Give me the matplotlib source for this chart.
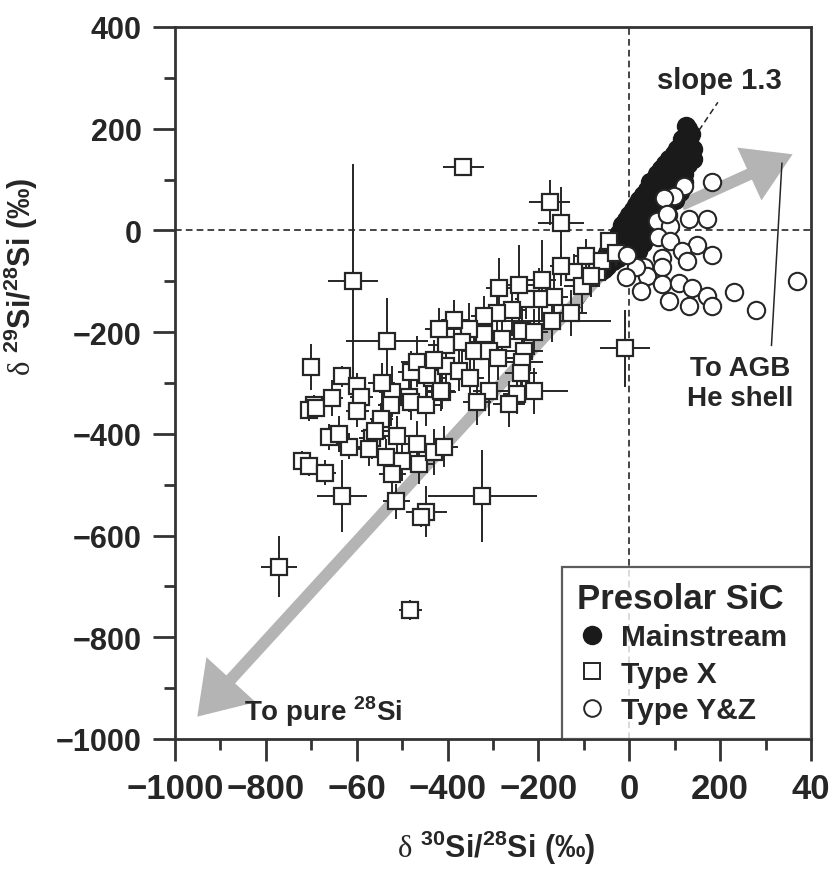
import matplotlib
matplotlib.use("Agg")
import matplotlib.pyplot as plt
from matplotlib.lines import Line2D
from matplotlib.patches import FancyArrowPatch
from matplotlib.ticker import MultipleLocator, FixedLocator

plt.rcParams['mathtext.fontset'] = 'custom'
plt.rcParams['mathtext.rm'] = 'Liberation Serif'
plt.rcParams['mathtext.sf'] = 'Liberation Sans:bold'
plt.rcParams['mathtext.bf'] = 'Liberation Sans:bold'
plt.rcParams['font.family'] = ['Liberation Sans', 'DejaVu Sans']

# ---------------- data ----------------
# Mainstream grains (filled circles)
ms_x = [-65, -58, -50, -45, -40, -35, -30, -28, -22, -18, -15, -10, -8, -5, 0, 3, 5, 8, 10, 12,
        15, 18, 20, 22, 25, 28, 30, 33, 35, 38, 40, 42, 45, 48, 50, 55, 58, 60, 62, 65,
        68, 70, 72, 75, 78, 80, 85, 88, 90, 95, 98, 100, 105, 108, 110, 115, 118, 120, 125, 128, 130, 132,
        100, 110, 120, 90, 80, 60, 50, 40, 30, 20, 70, 130, 140, 135, 125, 115, 105, 95, 85, 75,
        65, 55, 45, 35, 25, 15, 5, -5, -15, -25, -55, -62, -48, -35, -20, 100, 112, 140, 120]
ms_y = [-70, -62, -45, -58, -30, -45, -20, -38, -5, -25, 10, -12, 20, 0, 30, -5, 15, 40, 5, 25,
        50, 10, 35, 60, 20, 45, 70, 30, 55, 80, 40, 65, 95, 50, 75, 100, 60, 85, 110, 70,
        95, 120, 80, 105, 130, 90, 115, 140, 100, 125, 150, 110, 135, 155, 125, 150, 170, 140, 165, 185, 200, 180,
        80, 95, 110, 60, 45, 20, 5, -10, -25, -40, 30, 130, 160, 190, 205, 180, 160, 140, 120, 100,
        85, 65, 50, 30, 15, 0, -15, -30, -45, -55, -75, -80, -70, -60, -40, 60, 75, 140, 95]

# Type X grains (open squares with errors)
tx_x = [-365, -175, -150, -45, -608, -10, -533, -700, -632, -599, -590, -694, -522, -480, -467, -403,
        -434, -412, -485, -705, -689, -661, -617, -720, -705, -670, -632, -771, -513, -447, -458,
        -566, -535, -511, -500, -467, -463, -522, -573, -599, -524, -480, -447, -430, -407, -546,
        -95, -70, -121, -104, -192, -165, -128, -170, -198, -227, -258, -291, -319, -236, -280,
        -319, -352, -368, -341, -308, -231, -236, -403, -374, -238, -445, -308, -209, -247, -414,
        -335, -264, -324, -482, -385, -419, -286, -242, -150, -60, -30, -85, -655, -640, -545, -560,
        -430, -350, -290, -210]
tx_y = [125, 55, 15, -20, -100, -232, -217, -268, -287, -305, -327, -344, -317, -278, -258, -226,
        -291, -317, -327, -354, -350, -406, -425, -453, -463, -476, -522, -661, -533, -553, -563,
        -409, -445, -404, -453, -419, -459, -478, -429, -356, -344, -337, -344, -435, -425, -370,
        -51, -81, -81, -110, -98, -130, -163, -179, -134, -134, -157, -163, -169, -197, -213,
        -203, -193, -219, -238, -238, -238, -258, -266, -276, -281, -285, -315, -315, -321, -315,
        -337, -341, -522, -746, -177, -193, -114, -108, -70, -60, -45, -90, -330, -400, -300, -395,
        -255, -290, -250, -200]
tx_xerr = [45, 45, 50, 15, 55, 55, 90, 15, 15, 20, 25, 20, 30, 30, 35, 40,
           30, 30, 25, 15, 20, 20, 25, 15, 15, 25, 55, 40, 30, 45, 20,
           30, 25, 30, 30, 35, 30, 30, 25, 25, 30, 30, 30, 35, 30, 25,
           25, 20, 25, 40, 30, 30, 35, 130, 30, 25, 30, 35, 30, 40, 30,
           30, 35, 30, 30, 35, 40, 45, 30, 30, 35, 30, 35, 75, 30, 30,
           30, 35, 120, 25, 30, 30, 30, 35, 25, 20, 20, 30, 25, 25, 30, 30,
           30, 30, 35, 30]
tx_yerr = [12, 45, 70, 15, 230, 75, 85, 45, 20, 25, 25, 20, 50, 40, 50, 30,
           40, 35, 30, 20, 20, 25, 25, 20, 20, 25, 70, 60, 35, 50, 20,
           40, 35, 40, 40, 45, 40, 40, 35, 30, 40, 35, 40, 45, 40, 30,
           35, 30, 35, 50, 80, 45, 45, 40, 60, 40, 50, 45, 40, 50, 45,
           45, 50, 45, 45, 50, 60, 55, 40, 40, 50, 40, 50, 45, 40, 40,
           45, 45, 90, 20, 40, 40, 60, 80, 40, 30, 25, 40, 35, 35, 40, 40,
           40, 40, 45, 45]

# Type Y & Z grains (open circles)
yz_x = [132, 172, 62, 86, 90, 64, 90, 150, 181, 117, 126, 73, 73, 33, 40, 15, -4, -7, 26, 73,
        110, 137, 88, 132, 172, 181, 231, 280, 370, 183, 121, 99, 77, 84]
yz_y = [22, 22, 18, 31, 8, -12, -20, -28, -49, -41, -61, -55, -71, -71, -89, -71, -49, -91, -120, -106,
        -104, -114, -138, -148, -128, -148, -122, -157, -100, 96, 87, 67, 63, 33]

x_ticks = [-1000, -800, -600, -400, -200, 0, 200, 400]
x_ticklabels = ['\u22121000', '\u2212800', '\u221260', '\u2212400', '\u2212200', '0', '200', '40']
y_ticks = [400, 200, 0, -200, -400, -600, -800, -1000]
y_ticklabels = ['400', '200', '0', '\u2212200', '\u2212400', '\u2212600', '\u2212800', '\u22121000']

# ---------------- figure ----------------
W, H = 832, 870
fig = plt.figure(figsize=(W / 100, H / 100), dpi=100)
ax = fig.add_axes([175 / W, 1 - 740 / H, 636 / W, 712 / H])
ax.set_xlim(-1000, 400)
ax.set_ylim(-1000, 400)

dark = '#262626'
grey = '#b4b4b4'

# reference lines
ax.axhline(0, color=dark, lw=1.2, ls=(0, (4, 2.5)), zorder=1)
ax.axvline(0, color=dark, lw=1.2, ls=(0, (4, 2.5)), zorder=1)
# slope 1.3 line
ax.plot([-115, 195], [-160, 252], color=dark, lw=1.1, ls=(0, (4, 2.5)), zorder=1)

# grey arrows
a1 = FancyArrowPatch((-60, -85), (-955, -960), arrowstyle='-|>,head_length=0.9,head_width=0.6',
                     mutation_scale=40, lw=0, color=grey, zorder=2)
ax.add_patch(a1)
ax.plot([-60, -900], [-85, -905], color=grey, lw=8.5, solid_capstyle='butt', zorder=2)
ax.plot([115, 320], [50, 133], color=grey, lw=8.5, solid_capstyle='butt', zorder=2)
a2 = FancyArrowPatch((115, 50), (365, 152), arrowstyle='-|>,head_length=0.9,head_width=0.55',
                     mutation_scale=38, lw=0, color=grey, zorder=2)
ax.add_patch(a2)

# mainstream
ax.plot(ms_x, ms_y, 'o', ms=13, mfc='#1a1a1a', mec='#1a1a1a', zorder=3)

# type X
ax.errorbar(tx_x, tx_y, xerr=tx_xerr, yerr=tx_yerr, fmt='none', ecolor=dark, elinewidth=1.4,
            capsize=0, zorder=4)
ax.plot(tx_x, tx_y, 's', ms=12, mfc='white', mec=dark, mew=1.6, zorder=5)

# type Y&Z
ax.plot(yz_x, yz_y, 'o', ms=12.5, mfc='white', mec=dark, mew=1.5, zorder=6)

# leader line for AGB
ax.plot([313, 336], [-226, 132], color=dark, lw=1.1, zorder=7)

# annotations
ax.text(198, 268, 'slope 1.3', fontsize=21, fontweight='bold', color=dark, ha='center', va='bottom')
ax.text(245, -245, 'To AGB\nHe shell', fontsize=20, fontweight='bold', color=dark, ha='center',
        va='top', linespacing=1.2)
ax.text(-848, -978, r'To pure $^{\mathsf{28}}$Si', fontsize=20, fontweight='bold', color=dark,
        ha='left', va='bottom')

# axes styling
for s in ax.spines.values():
    s.set_linewidth(2)
    s.set_color('#333333')
ax.xaxis.set_major_locator(FixedLocator(x_ticks))
ax.set_xticklabels(x_ticklabels)
ax.yaxis.set_major_locator(FixedLocator(y_ticks))
ax.set_yticklabels(y_ticklabels)
ax.xaxis.set_minor_locator(MultipleLocator(100))
ax.yaxis.set_minor_locator(MultipleLocator(100))
ax.tick_params(which='major', length=16, width=2, color='#333333', pad=8)
ax.tick_params(which='minor', length=8, width=2, color='#333333')
for lab in ax.get_yticklabels():
    lab.set_fontsize(22)
    lab.set_fontweight('bold')
    lab.set_color(dark)
for lab in ax.get_xticklabels():
    lab.set_fontsize(25)
    lab.set_fontweight('bold')
    lab.set_color(dark)

ax.set_xlabel(r'$\mathrm{\delta}$ $^{\mathsf{30}}$Si/$^{\mathsf{28}}$Si (‰)', fontsize=22,
              fontweight='bold', color=dark)
ax.set_ylabel(r'$\mathrm{\delta}$ $^{\mathsf{29}}$Si/$^{\mathsf{28}}$Si (‰)', fontsize=22,
              fontweight='bold', color=dark)
ax.xaxis.set_label_coords(0.505, -0.124)
ax.yaxis.set_label_coords(-0.212, 0.65)

# legend
handles = [Line2D([], [], ls='none', marker='o', ms=13, mfc='#1a1a1a', mec='#1a1a1a'),
           Line2D([], [], ls='none', marker='s', ms=11, mfc='white', mec=dark, mew=1.4),
           Line2D([], [], ls='none', marker='o', ms=12, mfc='white', mec=dark, mew=1.4)]
leg = ax.legend(handles, ['Mainstream', 'Type X', 'Type Y&Z'], title='Presolar SiC',
                loc='lower left', bbox_to_anchor=(0.608, 0, 0.392, 0.25), mode='expand',
                borderaxespad=0, frameon=True,
                fancybox=False, prop={'size': 21.5, 'weight': 'bold'},
                title_fontproperties={'size': 25, 'weight': 'bold'},
                handletextpad=0.5, handlelength=1.0, labelspacing=0.28, borderpad=0.5)
leg._legend_box.align = 'left'
leg.get_frame().set_edgecolor('#333333')
leg.get_frame().set_linewidth(1.6)
for t in leg.get_texts():
    t.set_color(dark)
leg.get_title().set_color(dark)
leg.set_zorder(10)

fig.savefig('out.png', dpi=100)
